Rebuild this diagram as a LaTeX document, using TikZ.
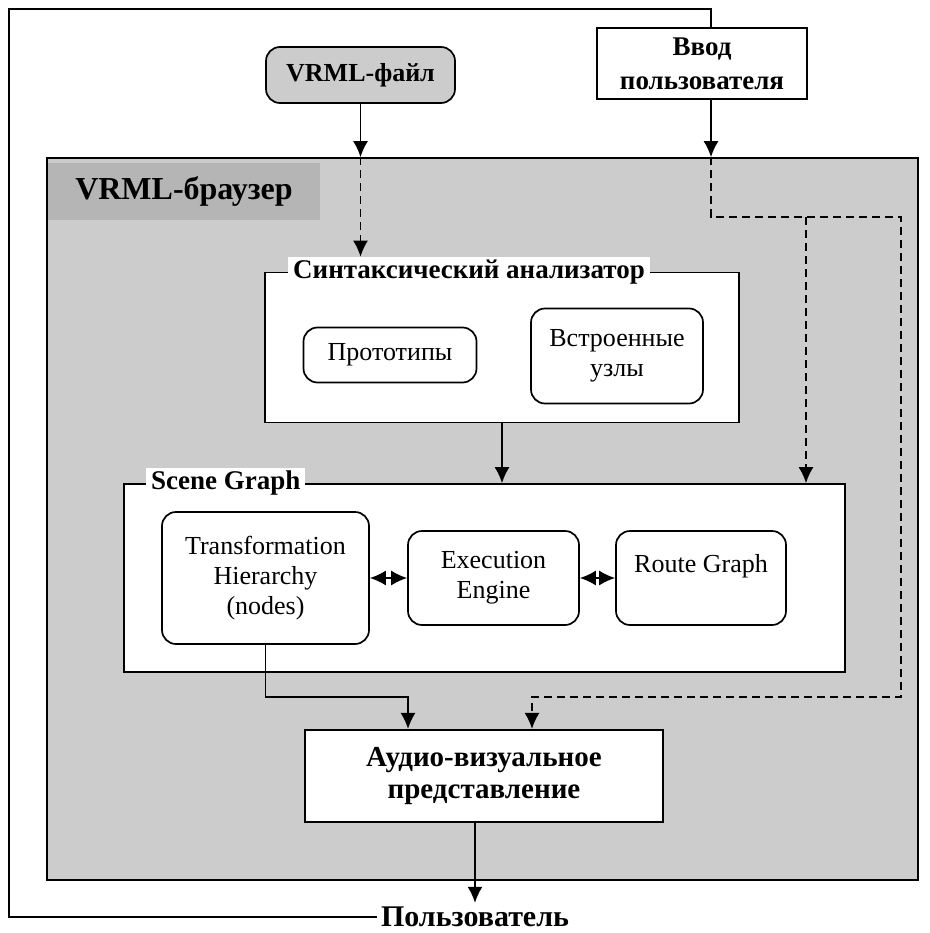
\documentclass[tikz,border=0pt]{standalone}
\usepackage{fontspec}
\setmainfont{Liberation Serif}
\usetikzlibrary{arrows.meta}

\definecolor{browsergray}{gray}{0.80}
\definecolor{labelgray}{gray}{0.71}

\begin{document}
\begin{tikzpicture}[x=1pt,y=-1pt]

\tikzset{box/.style = {shape=rectangle,draw,line width=1.7pt,fill=white,align=center,inner sep=0pt,font=\fontsize{26}{30}\selectfont}}
\tikzset{rbox/.style = {box,rounded corners=14pt}}
\tikzset{bold/.style 2 args = {font=\bfseries\fontsize{#1}{#2}\selectfont}}
\tikzset{tag/.style = {fill=white,inner xsep=5pt,inner ysep=3pt,bold={27}{31}}}
\tikzset{line/.style = {line width=1.7pt}}
\tikzset{edge/.style = {line,-{Latex[length=16pt,width=15pt]}}}
\tikzset{twoway/.style = {line,{Latex[length=16pt,width=15pt]}-{Latex[length=16pt,width=15pt]}}}
\tikzset{dedge/.style = {edge,dash pattern=on 8pt off 5pt}}

\useasboundingbox (0,0) rectangle (929,933);

%browser area
\node[draw,line width=1.7pt,fill=browsergray,minimum width=871pt,minimum height=722pt] (browser) at (482.5,519) {};
\node[fill=labelgray,minimum width=272pt,minimum height=57pt,bold={32}{36}] (browserlabel) at (184,191.5) {VRML-браузер};

%sources
\node[rbox,fill=browsergray,minimum width=189pt,minimum height=56pt,bold={26}{30}] (file) at (360.5,75) {VRML-файл};
\node[box,minimum width=210pt,minimum height=71pt,bold={27}{34}] (input) at (702,63.5) {Ввод\\пользователя};

%parser
\node[box,minimum width=474pt,minimum height=150pt] (parser) at (502,347.5) {};
\node[tag,anchor=west] (parserlabel) at (288,272) {Синтаксический анализатор};
\node[rbox,minimum width=173pt,minimum height=55pt] (proto) at (390,355) {Прототипы};
\node[rbox,minimum width=172pt,minimum height=95pt] (builtin) at (617,356) {Встроенные\\узлы};

%scene graph
\node[box,minimum width=721pt,minimum height=188pt] (scene) at (484.5,578) {};
\node[tag,anchor=west] (scenelabel) at (146,483) {Scene Graph};
\node[rbox,minimum width=207pt,minimum height=132pt] (th) at (265.5,578) {Transformation\\Hierarchy\\(nodes)};
\node[rbox,minimum width=171pt,minimum height=94pt] (ee) at (493.5,578) {Execution\\Engine};
\node[rbox,minimum width=170pt,minimum height=94pt] (rg) at (701,578) {Route Graph\\~};

%output
\node[box,line width=2.2pt,minimum width=358pt,minimum height=92pt,bold={29}{32}] (audio) at (484,776) {Аудио-визуальное\\представление};
\node[bold={30}{34},inner sep=4pt] (user) at (475,917) {Пользователь};

\coordinate (inx) at (711,0);
\coordinate (corner) at (9,9);
\coordinate (split) at (806,217);
\coordinate (far) at (901,697);

%edges
\draw[line] (input.north -| inx) |- (corner) |- (user.west);
\draw[edge] (file.south) -- (file.south |- browser.north);
\draw[dedge] (file.south |- browser.north) -- (file.south |- parserlabel.north);
\draw[edge] (input.south -| inx) -- (browser.north -| inx);
\draw[dedge] (browser.north -| inx) |- (far |- split) -- (far) -| ([xshift=48pt]audio.north);
\draw[dedge] (split) -- (split |- scene.north);
\draw[edge] (parser.south) -- (parser.south |- scene.north);
\draw[twoway] (th.east) -- (ee.west);
\draw[twoway] (ee.east) -- (rg.west);
\draw[edge] (th.south) |- ([xshift=-76pt,yshift=32pt]audio.north) -- ([xshift=-76pt]audio.north);
\draw[edge] (audio.south -| user) -- (user.north);

\end{tikzpicture}
\end{document}
